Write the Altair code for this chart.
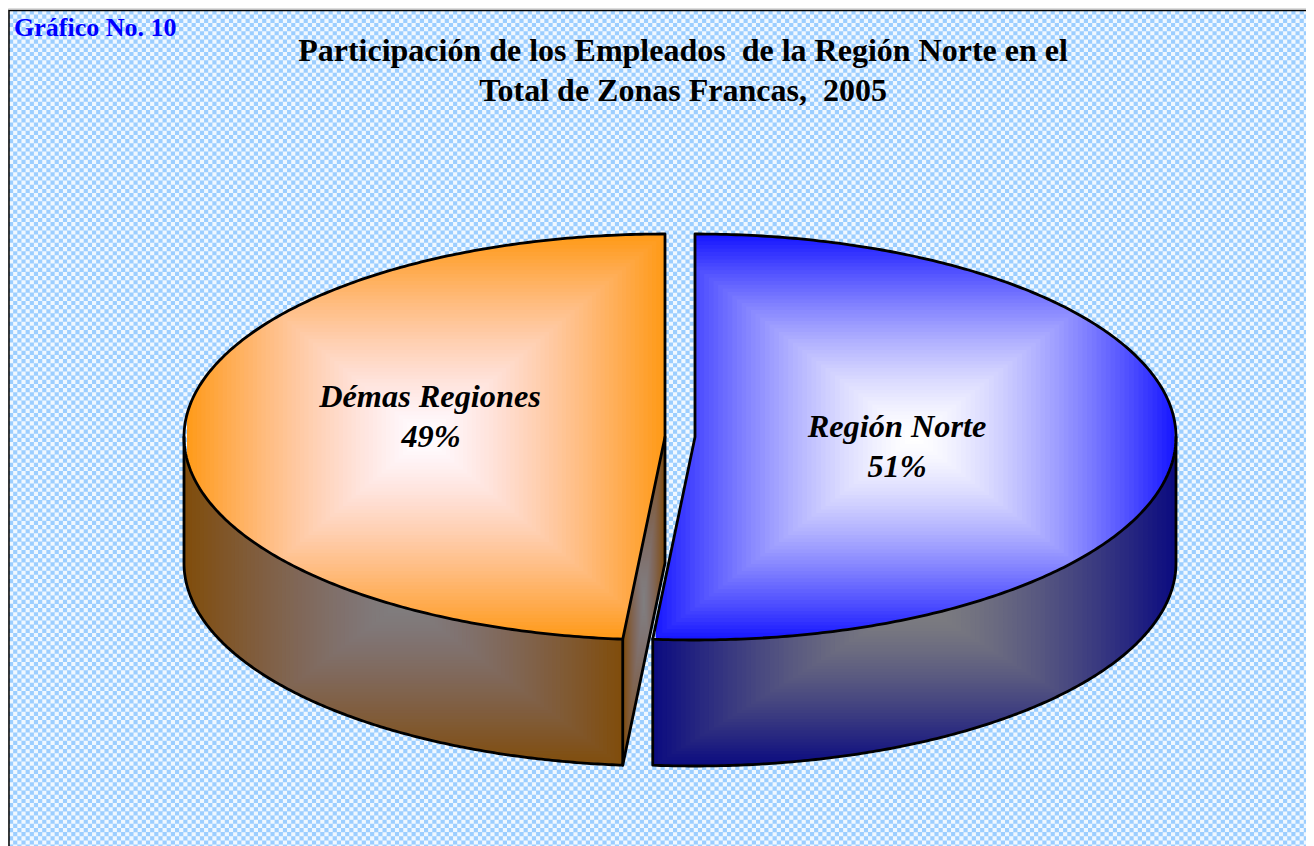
import numpy as np
import pandas as pd
import altair as alt

alt.data_transformers.disable_max_rows()

# ---- values ----
categories = ["Región Norte", "Démas Regiones"]
shares = [51.4, 48.6]
title_lines = ["Participación de los Empleados\u00a0 de la Región Norte en el",
               "Total de Zonas Francas,\u00a0 2005"]
caption = "Gráfico No. 10"

# ---- styling ----
face_colors = [(20, 20, 255), (255, 153, 20)]
face_gammas = [(1.45, 1.45, 1.0), (1.0, 1.0, 1.45)]
PAGE_X = [8, 1306]
PAGE_Y = [846, 8]
RX, RY, DEPTH = 481, 203, 126
CX_RIGHT, CX_LEFT, CY = 695, 665, 437
LEVELS = 56

X = alt.X("x:Q", scale=alt.Scale(domain=PAGE_X, nice=False, zero=False), axis=None)
Y = alt.Y("y:Q", scale=alt.Scale(domain=PAGE_Y, nice=False, zero=False), axis=None)

cut = 2 * np.pi * shares[0] / sum(shares)
dx_cut = RX * np.sin(cut)
dy_cut = -RY * np.cos(cut)


def shade(base, gammas, t):
    t = max(t, 0)
    return tuple(255 + (base[i] - 255) * t ** gammas[i] for i in range(3))


def hexc(c):
    return "#%02x%02x%02x" % tuple(int(round(v)) for v in c)


def face_rows(name, x0, x1, y0, y1, upper, lower, which, dim, step, extra=()):
    cx, cy, hw, hh = (x0 + x1) / 2, (y0 + y1) / 2, (x1 - x0) / 2, (y1 - y0) / 2
    rows = []
    for k in range(LEVELS):
        t = 1 - k / LEVELS
        col = shade(face_colors[which], face_gammas[which], t - 0.5 / LEVELS)
        col = tuple(v * dim for v in col)
        a, b = cx - t * hw, cx + t * hw
        xs = np.unique(np.concatenate([np.arange(a, b, step), [a, b], [e for e in extra if a <= e <= b]]))
        up = np.maximum(upper(xs), cy - t * hh)
        lo = np.minimum(lower(xs), cy + t * hh)
        keep = lo > up
        for xv, u, l in zip(xs[keep], up[keep], lo[keep]):
            rows.append((round(float(xv), 2), round(float(u), 1), round(float(l), 1), f"{name}{k}", hexc(col)))
    return rows


def ell(x, cx):
    return RY * np.sqrt(np.clip(1 - ((x - cx) / RX) ** 2, 0, 1))


# right slice, top
def r_up(x):
    return np.where(x >= CX_RIGHT, CY - ell(x, CX_RIGHT), CY + (CX_RIGHT - x) / (-dx_cut) * dy_cut)


def r_lo(x):
    return CY + ell(x, CX_RIGHT)


# left slice, top
def l_up(x):
    return CY - ell(x, CX_LEFT)


def l_lo(x):
    px = CX_LEFT + dx_cut
    return np.where(x <= px, CY + ell(x, CX_LEFT), CY + (CX_LEFT - x) / (-dx_cut) * dy_cut)


rx0, rx1 = CX_RIGHT + dx_cut, CX_RIGHT + RX
lx0, lx1 = CX_LEFT - RX, CX_LEFT
lpx = CX_LEFT + dx_cut

rows = []
# left pieces first, right pieces last
rows += face_rows("ls", lx0, lpx, CY, CY + RY + DEPTH, l_lo, lambda x: l_lo(x) + DEPTH, 1, 0.5, 3, (lpx,))
rows += face_rows("lw", lpx, lx1, CY, CY + RY + DEPTH,
                  lambda x: CY + (CX_LEFT - x) / (-dx_cut) * dy_cut,
                  lambda x: CY + (CX_LEFT - x) / (-dx_cut) * dy_cut + DEPTH, 1, 0.5, 1)
rows += face_rows("lt", lx0, lx1, CY - RY, CY + RY, l_up, l_lo, 1, 1.0, 3, (lpx,))
rows += face_rows("rs", rx0, rx1, CY, CY + RY + DEPTH, r_lo, lambda x: r_lo(x) + DEPTH, 0, 0.5, 3)
rows += face_rows("rt", rx0, rx1, CY - RY, CY + RY, r_up, r_lo, 0, 1.0, 3,
                  (CX_RIGHT - 0.01, CX_RIGHT))
faces = pd.DataFrame(rows, columns=["x", "y", "y2", "g", "c"])


def arc(cx, cy, a, b, n=240):
    th = np.linspace(a, b, n)
    return list(zip(cx + RX * np.sin(th), cy - RY * np.cos(th)))


paths = {
    "ls": [(lx0, CY)] + arc(CX_LEFT, CY + DEPTH, 1.5 * np.pi, cut, 200) + [(lpx, CY + dy_cut)],
    "lw": [(lpx, CY + dy_cut + DEPTH), (CX_LEFT, CY + DEPTH), (CX_LEFT, CY)],
    "lt": [(CX_LEFT, CY)] + arc(CX_LEFT, CY, 2 * np.pi, cut, 300) + [(CX_LEFT, CY)],
    "rs": [(rx1, CY)] + arc(CX_RIGHT, CY + DEPTH, 0.5 * np.pi, cut, 200) + [(rx0, CY + dy_cut)],
    "rt": [(CX_RIGHT, CY)] + arc(CX_RIGHT, CY, 0, cut, 300) + [(CX_RIGHT, CY)],
}
line_rows = []
for rank, (name, pts) in enumerate(paths.items()):
    for i, (a, b) in enumerate(pts):
        line_rows.append({"x": round(float(a), 2), "y": round(float(b), 2), "p": f"{rank}{name}", "i": i})
lines = pd.DataFrame(line_rows)

# background
CELL = 4.15
bg = pd.DataFrame([{"x": 9, "x2": PAGE_X[1], "y": 10.5, "y2": PAGE_Y[0]}])
rows_y = np.arange(12.5, 848, CELL)
even = pd.DataFrame({"y": rows_y[0::2], "x": 9, "x2": PAGE_X[1]})
odd = pd.DataFrame({"y": rows_y[1::2], "x": 9, "x2": PAGE_X[1]})

background = alt.Chart(bg).mark_rect(color="#9CCEFF").encode(x=X, x2="x2:Q", y=Y, y2="y2:Q")
dash_a = alt.Chart(even).mark_rule(color="#ffffff", strokeWidth=CELL, strokeDash=[CELL, CELL], opacity=0.85).encode(x=X, x2="x2:Q", y=Y)
dash_b = alt.Chart(odd).mark_rule(color="#ffffff", strokeWidth=CELL, strokeDash=[CELL, CELL], strokeDashOffset=CELL, opacity=0.85).encode(x=X, x2="x2:Q", y=Y)
frame = alt.Chart(pd.DataFrame([{"x": 9, "x2": 1320, "y": 10.5, "y2": 860}])).mark_rect(
    fillOpacity=0, stroke="#000000", strokeWidth=1.5).encode(x=X, x2="x2:Q", y=Y, y2="y2:Q")

face_layer = alt.Chart(faces).mark_area(interpolate="linear").encode(
    x=X, y=Y, y2="y2:Q", detail="g:N", fill=alt.Fill("c:N", scale=None, legend=None))
line_layer = alt.Chart(lines).mark_line(color="#000000", strokeWidth=2.8, strokeJoin="round", strokeCap="round").encode(
    x=X, y=Y, detail="p:N", order="i:Q")

label_df = pd.DataFrame([
    {"x": 897, "y": 437, "t": categories[0]},
    {"x": 897, "y": 477, "t": f"{round(shares[0])}%"},
    {"x": 430, "y": 407, "t": categories[1]},
    {"x": 431, "y": 447, "t": f"{round(shares[1])}%"},
])
labels = alt.Chart(label_df).mark_text(font="Liberation Serif", fontSize=32.3, fontWeight="bold", fontStyle="italic",
                                       color="#000000", align="center", baseline="alphabetic").encode(x=X, y=Y, text="t:N")
title_df = pd.DataFrame([{"x": 683, "y": 61, "t": title_lines[0]}, {"x": 683, "y": 101, "t": title_lines[1]}])
title = alt.Chart(title_df).mark_text(font="Liberation Serif", fontSize=32, fontWeight="bold",
                                      color="#000000", align="center", baseline="alphabetic").encode(x=X, y=Y, text="t:N")
cap = alt.Chart(pd.DataFrame([{"x": 14, "y": 36, "t": caption}])).mark_text(
    font="Liberation Serif", fontSize=26, fontWeight="bold", color="#0000ff", align="left", baseline="alphabetic"
).encode(x=X, y=Y, text="t:N")

chart = alt.layer(background, dash_a, dash_b, frame, face_layer, line_layer, labels, title, cap).properties(
    width=1298, height=838, padding=0, autosize=alt.AutoSizeParams(type="none"),
).configure_view(stroke=None).configure(background="#ffffff")

chart.save("out.html", embed_options={"renderer": "svg", "actions": False})
